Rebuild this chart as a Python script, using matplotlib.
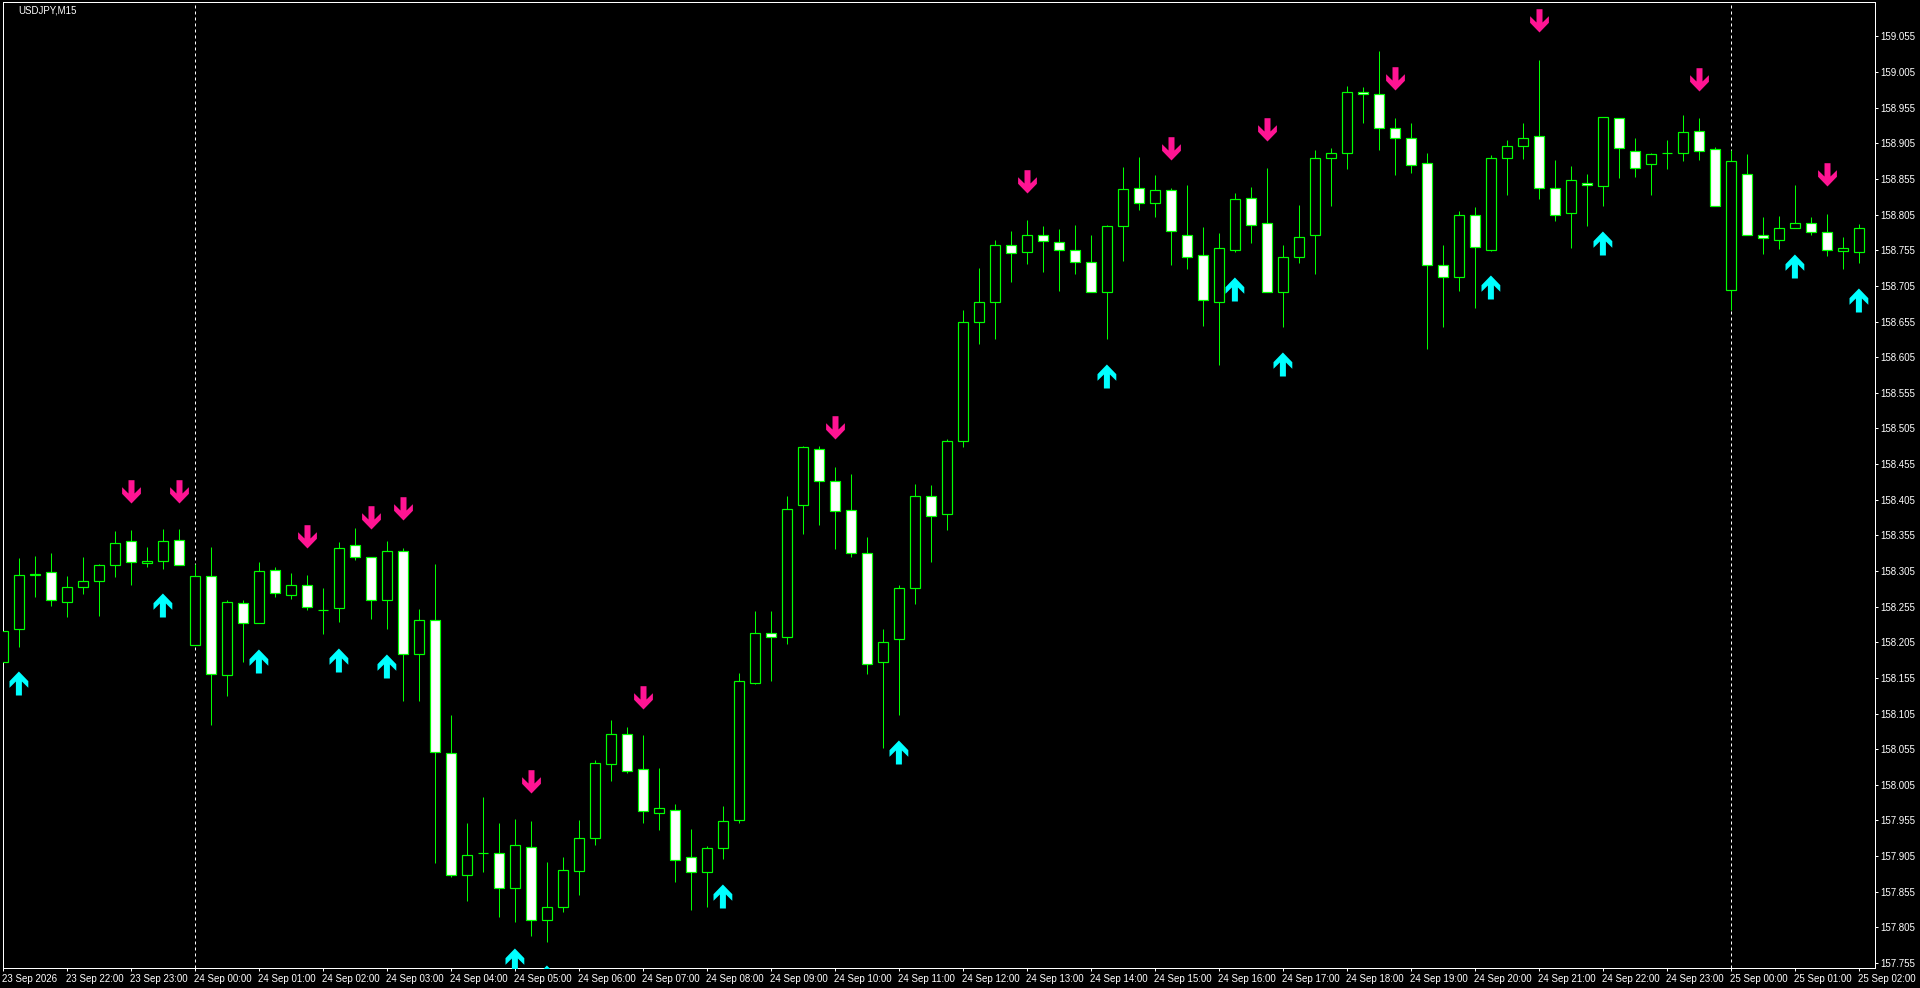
import matplotlib
matplotlib.use('Agg')
import matplotlib.pyplot as plt
from matplotlib.path import Path
from matplotlib.transforms import ScaledTranslation

symbol = "USDJPY,M15"

opens = [158.177, 158.223, 158.299, 158.303, 158.262, 158.282, 158.291, 158.313, 158.347, 158.316, 158.319, 158.349, 158.201, 158.298, 158.159, 158.260, 158.232, 158.306, 158.272, 158.285, 158.250, 158.253, 158.341, 158.324, 158.264,
         158.333, 158.188, 158.236, 158.049, 157.879, 157.910, 157.910, 157.860, 157.918, 157.816, 157.833, 157.884, 157.931, 158.034, 158.076, 158.027, 157.966, 157.969, 157.904, 157.882, 157.917, 157.955, 158.148, 158.218, 158.213,
         158.397, 158.476, 158.432, 158.390, 158.330, 158.178, 158.209, 158.281, 158.410, 158.385, 158.487, 158.654, 158.683, 158.762, 158.752, 158.777, 158.766, 158.755, 158.738, 158.697, 158.789, 158.842, 158.821, 158.839, 158.777,
         158.748, 158.683, 158.756, 158.828, 158.793, 158.697, 158.745, 158.776, 158.885, 158.892, 158.977, 158.975, 158.926, 158.912, 158.877, 158.734, 158.717, 158.804, 158.756, 158.885, 158.901, 158.915, 158.842, 158.807, 158.849,
         158.845, 158.940, 158.895, 158.876, 158.891, 158.891, 158.923, 158.897, 158.699, 158.862, 158.776, 158.770, 158.786, 158.793, 158.780, 158.754, 158.752]
highs = [158.231, 158.323, 158.326, 158.330, 158.298, 158.325, 158.315, 158.361, 158.363, 158.339, 158.364, 158.364, 158.315, 158.339, 158.265, 158.264, 158.318, 158.311, 158.302, 158.300, 158.281, 158.346, 158.365, 158.324, 158.347,
         158.337, 158.252, 158.315, 158.103, 157.952, 157.988, 157.952, 157.957, 157.954, 157.897, 157.904, 157.956, 158.040, 158.096, 158.086, 158.075, 158.029, 157.978, 157.943, 157.919, 157.975, 158.162, 158.249, 158.249, 158.410,
         158.480, 158.480, 158.451, 158.441, 158.353, 158.224, 158.285, 158.427, 158.426, 158.490, 158.671, 158.730, 158.769, 158.782, 158.798, 158.789, 158.785, 158.790, 158.776, 158.790, 158.872, 158.886, 158.861, 158.842, 158.847,
         158.788, 158.779, 158.835, 158.844, 158.870, 158.762, 158.819, 158.896, 158.899, 158.986, 158.984, 159.035, 158.941, 158.934, 158.892, 158.762, 158.810, 158.816, 158.889, 158.910, 158.934, 159.022, 158.882, 158.873, 158.862,
         158.942, 158.940, 158.913, 158.892, 158.910, 158.945, 158.941, 158.900, 158.896, 158.890, 158.802, 158.803, 158.847, 158.802, 158.806, 158.774, 158.792]
lows = [158.144, 158.199, 158.269, 158.256, 158.240, 158.273, 158.242, 158.297, 158.286, 158.311, 158.308, 158.314, 158.201, 158.089, 158.130, 158.178, 158.232, 158.269, 158.266, 158.251, 158.217, 158.233, 158.320, 158.238, 158.224,
        158.122, 158.123, 157.896, 157.875, 157.842, 157.882, 157.819, 157.812, 157.793, 157.785, 157.826, 157.850, 157.920, 158.011, 158.022, 157.952, 157.942, 157.868, 157.830, 157.833, 157.901, 157.952, 158.147, 158.150, 158.203,
        158.357, 158.369, 158.336, 158.325, 158.160, 158.057, 158.103, 158.259, 158.318, 158.362, 158.479, 158.623, 158.631, 158.711, 158.736, 158.725, 158.698, 158.722, 158.696, 158.631, 158.740, 158.812, 158.802, 158.735, 158.729,
        158.649, 158.594, 158.753, 158.765, 158.696, 158.647, 158.737, 158.722, 158.817, 158.869, 158.933, 158.896, 158.860, 158.863, 158.616, 158.648, 158.698, 158.674, 158.754, 158.833, 158.883, 158.827, 158.796, 158.758, 158.789,
        158.817, 158.856, 158.858, 158.833, 158.869, 158.880, 158.882, 158.817, 158.671, 158.776, 158.750, 158.757, 158.786, 158.777, 158.747, 158.729, 158.737]
closes = [158.221, 158.299, 158.301, 158.264, 158.282, 158.291, 158.313, 158.345, 158.317, 158.319, 158.347, 158.314, 158.298, 158.161, 158.262, 158.232, 158.305, 158.274, 158.286, 158.255, 158.250, 158.337, 158.324, 158.264, 158.333,
          158.188, 158.236, 158.051, 157.879, 157.907, 157.910, 157.860, 157.920, 157.816, 157.833, 157.886, 157.931, 158.035, 158.076, 158.024, 157.968, 157.972, 157.899, 157.882, 157.916, 157.954, 158.150, 158.218, 158.213, 158.392,
          158.479, 158.431, 158.389, 158.330, 158.175, 158.206, 158.281, 158.410, 158.382, 158.487, 158.654, 158.682, 158.762, 158.751, 158.777, 158.768, 158.755, 158.738, 158.696, 158.789, 158.841, 158.821, 158.839, 158.782, 158.745,
          158.685, 158.758, 158.827, 158.791, 158.696, 158.745, 158.773, 158.884, 158.891, 158.977, 158.974, 158.926, 158.912, 158.874, 158.735, 158.717, 158.805, 158.759, 158.884, 158.902, 158.912, 158.842, 158.804, 158.853, 158.846,
          158.942, 158.898, 158.871, 158.890, 158.891, 158.921, 158.895, 158.817, 158.880, 158.776, 158.772, 158.787, 158.794, 158.780, 158.755, 158.758, 158.786]

sell_idx = [8, 11, 19, 23, 25, 33, 40, 52, 64, 73, 79, 87, 96, 106, 114]
sell_price = [158.401, 158.401, 158.338, 158.364, 158.376, 157.993, 158.112, 158.490, 158.836, 158.882, 158.908, 158.980, 159.061, 158.979, 158.845]
buy_idx = [1, 10, 16, 21, 24, 32, 34, 45, 56, 69, 77, 80, 93, 100, 112, 116]
buy_price = [158.165, 158.274, 158.196, 158.197, 158.189, 157.776, 157.752, 157.866, 158.068, 158.596, 158.718, 158.613, 158.721, 158.782, 158.750, 158.702]

day_breaks = [12, 108]
time_labels = ["23 Sep 2026", "23 Sep 22:00", "23 Sep 23:00",
               "24 Sep 00:00", "24 Sep 01:00", "24 Sep 02:00", "24 Sep 03:00", "24 Sep 04:00", "24 Sep 05:00",
               "24 Sep 06:00", "24 Sep 07:00", "24 Sep 08:00", "24 Sep 09:00", "24 Sep 10:00", "24 Sep 11:00",
               "24 Sep 12:00", "24 Sep 13:00", "24 Sep 14:00", "24 Sep 15:00", "24 Sep 16:00", "24 Sep 17:00",
               "24 Sep 18:00", "24 Sep 19:00", "24 Sep 20:00", "24 Sep 21:00", "24 Sep 22:00", "24 Sep 23:00",
               "25 Sep 00:00", "25 Sep 01:00", "25 Sep 02:00"]
price_labels = ["157.755", "157.805", "157.855", "157.905", "157.955", "158.005", "158.055", "158.105", "158.155",
                "158.205", "158.255", "158.305", "158.355", "158.405", "158.455", "158.505", "158.555", "158.605",
                "158.655", "158.705", "158.755", "158.805", "158.855", "158.905", "158.955", "159.005", "159.055"]

DPI = 100
PX = 72 / DPI
GREEN = '#00ff00'

plt.rcParams['font.family'] = ['Liberation Sans', 'DejaVu Sans']

fig = plt.figure(figsize=(19.2, 9.88), dpi=DPI, facecolor='black')
ax = fig.add_axes([2.5 / 1920, 1 - 967.5 / 988, 1872 / 1920, 965 / 988], facecolor='black')
ax.set_xlim(-0.05, 116.95)
ax.set_ylim(157.7487, 159.1027)

# candles: hollow = up, white = down
x = list(range(len(opens)))
ax.vlines(day_breaks, 157.7487, 159.1027, color='white', lw=PX, linestyles=(0, (3, 3)), zorder=1)
ax.vlines(x, lows, highs, color=GREEN, lw=PX, zorder=2)
heights = [c - o for o, c in zip(opens, closes)]
faces = ['white' if c <= o else 'black' for o, c in zip(opens, closes)]
ax.bar(x, heights, bottom=opens, width=10 / 16, color=faces, edgecolor=GREEN, lw=1.2 * PX, zorder=3)

# arrows, origin of the path is the tip
down_path = Path([(0, 0), (9.4, 9.7), (9.4, 16.3), (3, 10), (3, 23.3), (-3, 23.3), (-3, 10), (-9.4, 16.3), (-9.4, 9.7), (0, 0)], closed=True)
up_path = Path([(-0.6, 0), (8.8, -9.7), (8.8, -16.3), (2.4, -10), (2.4, -24), (-3.6, -24), (-3.6, -10), (-10, -16.3), (-10, -9.7), (-0.6, 0)], closed=True)
ax.plot(sell_idx, sell_price, ls='none', marker=down_path, ms=2 * 23.3 * PX, color='#ff1493', mew=0, zorder=4)
ax.plot(buy_idx, buy_price, ls='none', marker=up_path, ms=2 * 24 * PX, color='#00ffff', mew=0, zorder=4)

for s in ax.spines.values():
    s.set_color('white')
    s.set_linewidth(PX)

ax.set_xticks(x[::4])
ax.set_xticklabels(time_labels, ha='left')
ax.yaxis.tick_right()
ax.set_yticks([float(p) for p in price_labels])
ax.set_yticklabels(price_labels)
ax.tick_params(axis='both', colors='white', length=3 * PX, width=PX, labelsize=7, pad=3 * PX)
shift = ScaledTranslation(-1 / DPI, 0, fig.dpi_scale_trans)
for lab in ax.get_xticklabels():
    lab.set_transform(lab.get_transform() + shift)

fig.text(18 / 1920, 1 - 10.7 / 988, symbol, color='white', fontsize=7, va='center', ha='left')

fig.savefig('out.png', facecolor='black')
